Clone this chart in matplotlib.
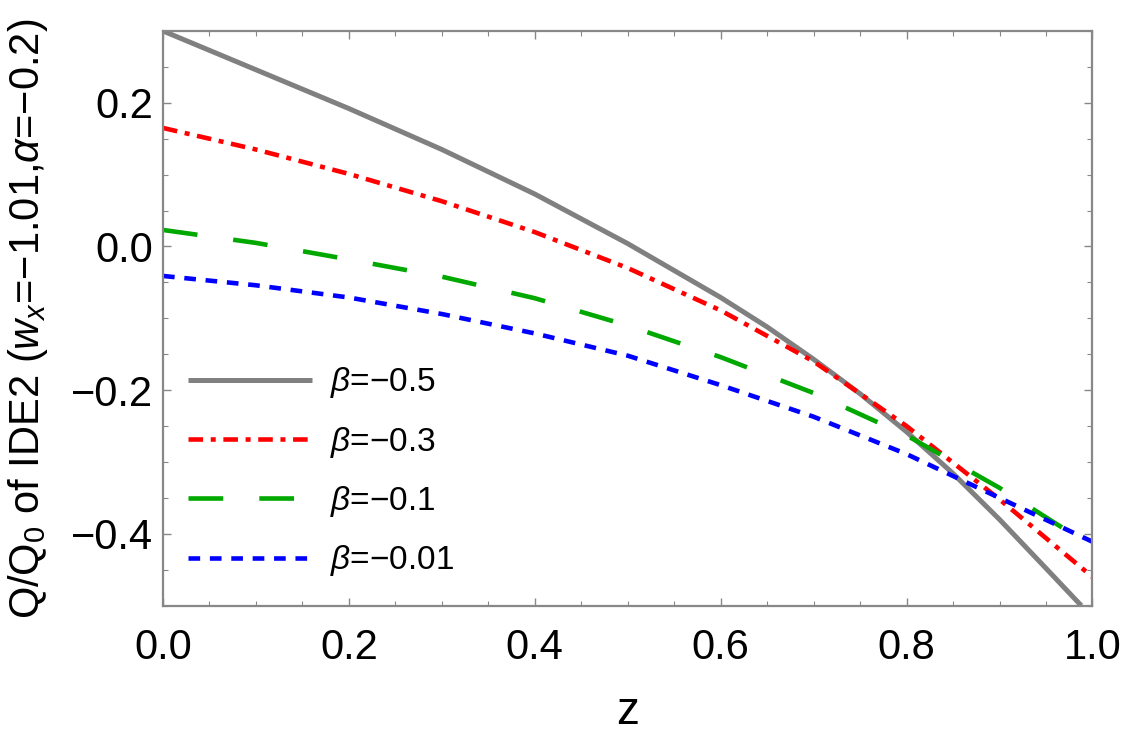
import numpy as np
import matplotlib
matplotlib.use("Agg")
from matplotlib import pyplot as plt
from matplotlib.ticker import MultipleLocator

plt.rcParams['font.family'] = ['Liberation Sans', 'DejaVu Sans']
plt.rcParams['mathtext.fontset'] = 'custom'
plt.rcParams['mathtext.rm'] = 'Liberation Sans'
plt.rcParams['mathtext.it'] = 'Liberation Sans:italic'
plt.rcParams['mathtext.default'] = 'regular'
plt.rcParams['lines.scale_dashes'] = False

# values
z = [0.0, 0.1, 0.2, 0.3, 0.4, 0.5, 0.6, 0.7, 0.8, 0.9, 1.0]
z_b05 = [0.0, 0.1, 0.2, 0.3, 0.4, 0.5, 0.6, 0.65, 0.7, 0.75, 0.8, 0.85, 0.9, 0.95, 0.988]
q_b05 = [0.300, 0.246, 0.192, 0.135, 0.073, 0.004, -0.071, -0.112, -0.157, -0.205,
         -0.258, -0.316, -0.380, -0.448, -0.500]
q_b03 = [0.165, 0.135, 0.101, 0.063, 0.020, -0.030, -0.089, -0.160, -0.250, -0.352, -0.460]
q_b01 = [0.023, 0.005, -0.018, -0.042, -0.072, -0.110, -0.154, -0.204, -0.263, -0.336, -0.418]
q_b001 = [-0.041, -0.054, -0.071, -0.094, -0.121, -0.152, -0.193, -0.237, -0.289, -0.350, -0.411]

labels = [r'$\mathit{\beta}$=−0.5', r'$\mathit{\beta}$=−0.3',
          r'$\mathit{\beta}$=−0.1', r'$\mathit{\beta}$=−0.01']

fig = plt.figure(figsize=(11.25, 7.34), dpi=100)
ax = fig.add_axes([0.1449, 0.1748, 0.9711 - 0.1449, 0.9578 - 0.1748])

ax.plot(z_b05, q_b05, color='#808080', lw=3.6, label=labels[0], solid_capstyle='butt')
ax.plot(z, q_b03, color='#ff0000', lw=3.3, label=labels[1],
        linestyle=(0, (10.5, 5.5, 3.6, 5.5)))
ax.plot(z, q_b01, color='#00a800', lw=3.3, label=labels[2],
        linestyle=(0, (25, 26)))
ax.plot(z, q_b001, color='#0000ff', lw=3.3, label=labels[3],
        linestyle=(0, (8.4, 7)))

ax.set_xlim(0, 1)
ax.set_ylim(-0.5, 0.3)
ax.xaxis.set_major_locator(MultipleLocator(0.2))
ax.xaxis.set_minor_locator(MultipleLocator(0.05))
ax.yaxis.set_major_locator(MultipleLocator(0.2))
ax.yaxis.set_minor_locator(MultipleLocator(0.05))
ax.xaxis.set_major_formatter(lambda v, p: f'{v:.1f}')
ax.yaxis.set_major_formatter(lambda v, p: f'{v:.1f}'.replace('-', '−'))

for s in ax.spines.values():
    s.set_color('#888888')
    s.set_linewidth(1.6)
ax.tick_params(which='both', direction='in', top=True, right=True, color='#888888',
               labelsize=30, labelcolor='black')
ax.tick_params(which='major', length=6, width=1)
ax.tick_params(which='minor', length=3.5, width=0.8)
ax.tick_params(axis='x', pad=16)
ax.tick_params(axis='y', pad=7)

ax.set_xlabel('z', fontsize=33, labelpad=16)
fig.text(0.025, 0.565, r'Q/Q$_0$ of IDE2 ($\mathit{w_x}$=−1.01,$\mathit{\alpha}$=−0.2)',
         rotation=90, fontsize=30, ha='center', va='center')

ax.legend(loc='upper left', bbox_to_anchor=(0.027, 0.418), frameon=False, fontsize=24,
          handlelength=3.72, handletextpad=0.54, labelspacing=0.73, borderpad=0,
          borderaxespad=0)

plt.savefig('out.png', dpi=100)
